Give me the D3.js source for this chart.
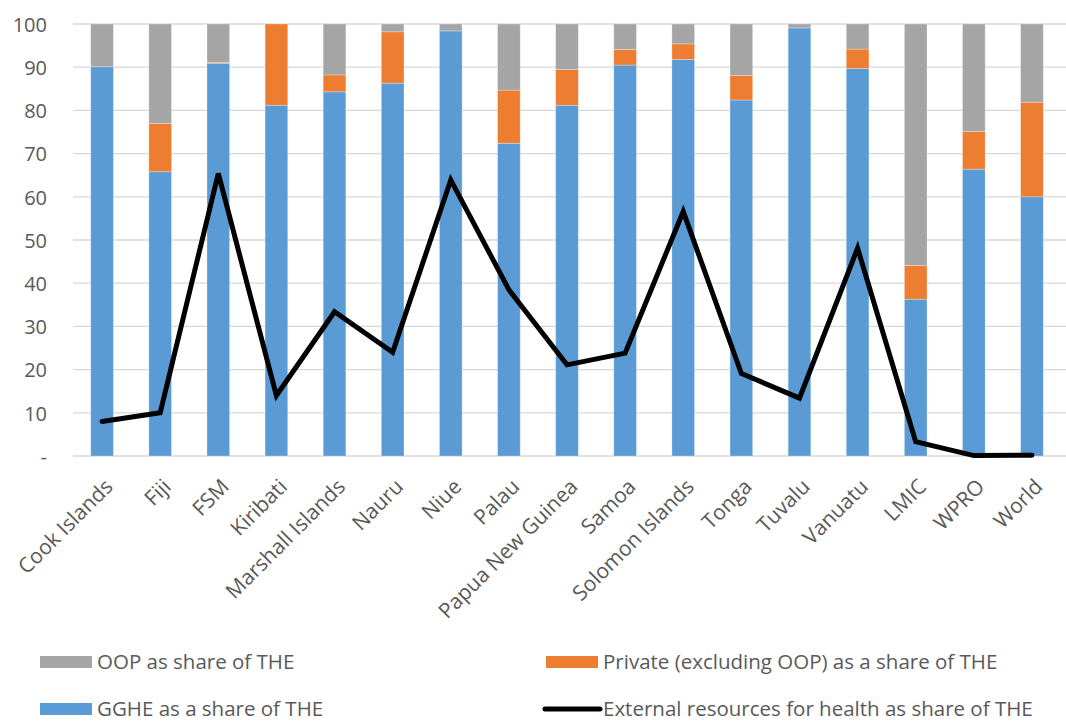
<!DOCTYPE html>
<html>
<head>
<meta charset="utf-8">
<script src="https://cdn.jsdelivr.net/npm/d3@7"></script>
<style>
  html, body { margin: 0; padding: 0; background: #fff; }
  svg { display: block; font-family: "Open Sans", sans-serif; }
</style>
</head>
<body>
<svg id="chart" width="1066" height="722"></svg>
<script>
// Health financing shares of total health expenditure (THE), %
const categories = ["Cook Islands", "Fiji", "FSM", "Kiribati", "Marshall Islands", "Nauru", "Niue",
  "Palau", "Papua New Guinea", "Samoa", "Solomon Islands", "Tonga", "Tuvalu", "Vanuatu",
  "LMIC", "WPRO", "World"];
const gghe     = [90.1, 65.8, 90.9, 81.2, 84.3, 86.3, 98.4, 72.4, 81.2, 90.5, 91.8, 82.4, 99.1, 89.7, 36.3, 66.4, 60.0];
const privateX = [0.0, 11.2, 0.2, 18.8, 3.9, 11.9, 0.0, 12.3, 8.3, 3.6, 3.6, 5.7, 0.0, 4.5, 7.8, 8.7, 21.9];
const oop      = [9.9, 23.0, 8.9, 0.0, 11.8, 1.8, 1.6, 15.3, 10.5, 5.9, 4.6, 11.9, 0.9, 5.8, 55.9, 24.9, 18.1];
const external = [8.0, 10.0, 65.4, 14.0, 33.4, 24.0, 63.9, 38.5, 21.1, 23.8, 56.6, 19.1, 13.4, 48.1, 3.3, 0.1, 0.2];
const yTicks = [0, 10, 20, 30, 40, 50, 60, 70, 80, 90, 100];

const seriesKeys = ["gghe", "private", "oop"];
const seriesColors = { gghe: "#5b9bd5", private: "#ed7d31", oop: "#a5a5a5" };
const legendItems = [
  { label: "OOP as share of THE", key: "oop", type: "rect" },
  { label: "Private (excluding OOP) as a share of THE", key: "private", type: "rect" },
  { label: "GGHE as a share of THE", key: "gghe", type: "rect" },
  { label: "External resources for health as share of THE", key: "external", type: "line" }
];

const rows = categories.map((c, i) => ({ category: c, gghe: gghe[i], private: privateX[i], oop: oop[i], external: external[i] }));

const svg = d3.select("#chart");
const plot = { left: 73, right: 1061, top: 24, bottom: 456 };
const textColor = "#595959";
const fontFamily = "'Open Sans', sans-serif";

const x = d3.scaleBand()
  .domain(categories)
  .range([plot.left, plot.right])
  .paddingInner(0.61)
  .paddingOuter(0.305);

const y = d3.scaleLinear().domain([0, 100]).range([plot.bottom, plot.top]);

// Horizontal gridlines
svg.append("g")
  .selectAll("line")
  .data(yTicks)
  .join("line")
  .attr("x1", plot.left)
  .attr("x2", 1066)
  .attr("y1", d => y(d))
  .attr("y2", d => y(d))
  .attr("stroke", "#d9d9d9")
  .attr("stroke-width", 1.3);

// Y axis labels (zero is shown as a dash)
const yAxis = d3.axisLeft(y)
  .tickValues(yTicks)
  .tickSize(0)
  .tickPadding(0)
  .tickFormat(d => d === 0 ? "-" : d);
const yG = svg.append("g").attr("transform", `translate(47,0)`).call(yAxis);
yG.select(".domain").remove();
yG.selectAll("text")
  .attr("fill", textColor)
  .attr("font-size", 20)
  .attr("font-family", fontFamily)
  .attr("dy", "0.36em");

// Stacked bars
const stack = d3.stack().keys(seriesKeys);
const stacked = stack(rows);

svg.append("g")
  .selectAll("g")
  .data(stacked)
  .join("g")
  .attr("fill", d => seriesColors[d.key])
  .selectAll("rect")
  .data(d => d.map(v => ({ v, cat: v.data.category })))
  .join("rect")
  .attr("x", d => x(d.cat))
  .attr("width", x.bandwidth())
  .attr("y", d => y(d.v[1]))
  .attr("height", d => Math.max(0, y(d.v[0]) - y(d.v[1])))
  .attr("stroke", "rgba(255,255,255,0.35)")
  .attr("stroke-width", 0.8);

// External resources line
const line = d3.line()
  .x(d => x(d.category) + x.bandwidth() / 2)
  .y(d => y(d.external));

svg.append("path")
  .datum(rows)
  .attr("d", line)
  .attr("fill", "none")
  .attr("stroke", "#000")
  .attr("stroke-width", 5)
  .attr("stroke-linejoin", "miter")
  .attr("stroke-linecap", "round");

// X axis category labels, rotated
const xAxis = d3.axisBottom(x).tickSize(0).tickPadding(0);
const xG = svg.append("g").attr("transform", `translate(0,${plot.bottom})`).call(xAxis);
xG.select(".domain").remove();
xG.selectAll("text")
  .attr("fill", textColor)
  .attr("font-size", 21)
  .attr("font-family", fontFamily)
  .attr("text-anchor", "end")
  .attr("dy", "0")
  .attr("y", 0)
  .attr("transform", "translate(12,32) rotate(-45)");

// Legend
const legendPos = [
  { x: 40, y: 662 },
  { x: 546, y: 662 },
  { x: 40, y: 709 },
  { x: 546, y: 709 }
];
const lg = svg.append("g")
  .selectAll("g")
  .data(legendItems)
  .join("g")
  .attr("transform", (d, i) => `translate(${legendPos[i].x},${legendPos[i].y})`);

lg.filter(d => d.type === "rect")
  .append("rect")
  .attr("x", 0)
  .attr("y", -6)
  .attr("width", 52)
  .attr("height", 12)
  .attr("fill", d => seriesColors[d.key]);

lg.filter(d => d.type === "line")
  .append("line")
  .attr("x1", -1)
  .attr("x2", 54)
  .attr("y1", 0)
  .attr("y2", 0)
  .attr("stroke", "#000")
  .attr("stroke-width", 5)
  .attr("stroke-linecap", "round");

lg.append("text")
  .attr("x", 57)
  .attr("y", 0)
  .attr("dy", "0.34em")
  .attr("fill", textColor)
  .attr("font-size", 20.5)
  .attr("font-family", fontFamily)
  .text(d => d.label);
</script>
</body>
</html>
